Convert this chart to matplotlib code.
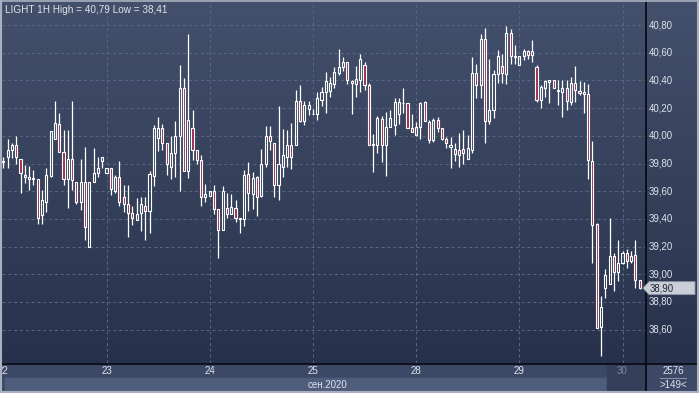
import numpy as np
import matplotlib.pyplot as plt
from matplotlib.patches import Rectangle, Polygon

W, H = 699, 393

# hourly candles
opens = [39.82, 39.845, 39.895, 39.935, 39.83, 39.72, 39.69, 39.69, 39.69, 39.43,
         39.52, 39.71, 39.98, 40.085, 39.88, 39.69, 39.83, 39.665, 39.52, 39.67,
         39.20, 39.665, 39.73, 39.815, 39.73, 39.765, 39.605, 39.705, 39.555, 39.51,
         39.44, 39.395, 39.44, 39.49, 39.46, 39.71, 39.985, 40.058, 39.947, 39.773,
         39.875, 40.0, 40.347, 39.745, 40.058, 39.894, 39.827, 39.557, 39.564, 39.605,
         39.472, 39.32, 39.48, 39.436, 39.48, 39.40, 39.40, 39.725, 39.581, 39.70,
         39.564, 39.798, 40.0, 39.95, 39.646, 39.773, 39.85, 39.937, 39.937, 40.25,
         40.106, 40.19, 40.156, 40.156, 40.258, 40.318, 40.325, 40.371, 40.455, 40.494,
         40.53, 40.395, 40.371, 40.402, 40.51, 40.366, 39.937, 39.937, 40.118, 39.933,
         40.065, 40.077, 40.161, 40.234, 40.234, 40.053, 40.005, 40.065, 40.246, 40.101,
         39.973, 40.113, 40.053, 39.98, 39.92, 39.908, 39.86, 39.908, 39.83, 39.90,
         40.456, 40.37, 40.70, 40.107, 40.186, 40.445, 40.502, 40.445, 40.741, 40.576,
         40.509, 40.576, 40.61, 40.586, 40.497, 40.258, 40.346, 40.387, 40.401, 40.325,
         40.318, 40.342, 40.246, 40.383, 40.325, 40.315, 40.30, 39.82, 39.363, 38.62,
         38.904, 38.928, 39.133, 39.013, 39.085, 39.157, 39.097, 39.138, 38.957]
highs = [39.85, 39.975, 39.947, 39.995, 39.83, 39.79, 39.78, 39.75, 39.69, 39.61,
         39.77, 40.035, 40.25, 40.165, 40.045, 40.045, 40.25, 39.665, 39.83, 39.92,
         39.67, 39.91, 39.845, 39.845, 39.765, 39.765, 39.715, 39.815, 39.645, 39.645,
         39.49, 39.55, 39.555, 39.555, 39.745, 40.08, 40.135, 40.087, 39.947, 40.0,
         40.11, 40.51, 40.42, 40.737, 40.188, 39.894, 39.858, 39.653, 39.605, 39.648,
         39.472, 39.64, 39.586, 39.58, 39.533, 39.40, 39.75, 39.814, 39.737, 39.713,
         39.906, 40.068, 40.068, 39.95, 40.212, 40.05, 40.04, 40.09, 40.33, 40.364,
         40.25, 40.25, 40.193, 40.318, 40.354, 40.463, 40.426, 40.50, 40.63, 40.57,
         40.53, 40.402, 40.504, 40.59, 40.535, 40.383, 40.01, 40.142, 40.142, 40.173,
         40.186, 40.27, 40.27, 40.342, 40.234, 40.161, 40.10, 40.246, 40.25, 40.113,
         40.125, 40.137, 40.053, 39.99, 39.99, 39.945, 40.017, 40.04, 40.005, 40.57,
         40.52, 40.736, 40.78, 40.557, 40.473, 40.617, 40.593, 40.79, 40.772, 40.653,
         40.576, 40.629, 40.617, 40.689, 40.509, 40.366, 40.401, 40.406, 40.406, 40.401,
         40.401, 40.401, 40.421, 40.502, 40.394, 40.39, 40.376, 39.966, 39.368, 38.84,
         39.037, 39.41, 39.157, 39.247, 39.17, 39.181, 39.17, 39.247, 38.957]
lows = [39.77, 39.77, 39.84, 39.80, 39.59, 39.66, 39.61, 39.645, 39.365, 39.36,
        39.45, 39.70, 39.975, 39.88, 39.645, 39.48, 39.61, 39.51, 39.465, 39.25,
        39.20, 39.665, 39.70, 39.765, 39.73, 39.575, 39.59, 39.49, 39.45, 39.27,
        39.355, 39.395, 39.31, 39.25, 39.295, 39.635, 39.89, 39.894, 39.72, 39.69,
        39.70, 39.605, 39.745, 39.696, 39.822, 39.798, 39.496, 39.52, 39.564, 39.436,
        39.118, 39.32, 39.407, 39.436, 39.376, 39.30, 39.352, 39.46, 39.472, 39.424,
        39.56, 39.773, 39.90, 39.557, 39.533, 39.706, 39.773, 39.76, 39.937, 40.10,
        40.08, 40.15, 40.156, 40.113, 40.215, 40.166, 40.28, 40.342, 40.44, 40.47,
        40.373, 40.161, 40.282, 40.318, 40.33, 39.933, 39.74, 39.877, 39.81, 39.71,
        40.065, 40.005, 40.084, 40.166, 40.053, 40.029, 39.998, 39.98, 40.106, 39.945,
        39.957, 40.029, 39.97, 39.91, 39.77, 39.82, 39.776, 39.80, 39.83, 39.875,
        40.27, 40.27, 39.95, 40.083, 40.126, 40.378, 40.378, 40.373, 40.521, 40.52,
        40.509, 40.545, 40.557, 40.533, 40.246, 40.198, 40.282, 40.234, 40.342, 40.222,
        40.133, 40.186, 40.222, 40.246, 40.294, 40.167, 39.688, 39.078, 38.615, 38.41,
        38.832, 38.928, 38.88, 38.952, 39.073, 39.049, 39.085, 38.904, 38.897]
closes = [39.81, 39.90, 39.935, 39.85, 39.73, 39.70, 39.70, 39.69, 39.41, 39.54,
          39.72, 40.035, 40.09, 39.88, 39.69, 39.83, 39.68, 39.52, 39.67, 39.345,
          39.67, 39.735, 39.77, 39.845, 39.765, 39.615, 39.705, 39.525, 39.51, 39.44,
          39.41, 39.435, 39.505, 39.46, 39.725, 40.055, 40.058, 39.947, 39.793, 39.875,
          40.0, 40.347, 39.745, 40.116, 39.894, 39.827, 39.557, 39.58, 39.605, 39.472,
          39.32, 39.60, 39.436, 39.484, 39.407, 39.40, 39.72, 39.585, 39.696, 39.557,
          39.798, 40.0, 39.96, 39.646, 39.793, 39.858, 39.937, 39.85, 40.25, 40.106,
          40.22, 40.22, 40.156, 40.27, 40.318, 40.398, 40.378, 40.463, 40.494, 40.53,
          40.402, 40.378, 40.407, 40.552, 40.366, 39.933, 39.937, 40.125, 39.933, 40.065,
          40.125, 40.246, 40.246, 40.234, 40.053, 40.029, 40.065, 40.234, 40.106, 39.969,
          40.113, 40.053, 39.98, 39.95, 39.937, 39.867, 39.896, 39.877, 39.91, 40.456,
          40.37, 40.70, 40.107, 40.186, 40.445, 40.574, 40.45, 40.741, 40.574, 40.57,
          40.576, 40.61, 40.586, 40.61, 40.258, 40.354, 40.394, 40.406, 40.342, 40.325,
          40.342, 40.25, 40.383, 40.33, 40.31, 40.30, 39.826, 39.355, 38.615, 38.765,
          38.996, 39.133, 39.013, 39.085, 39.157, 39.097, 39.133, 38.957, 38.90]

day_labels = ["22", "23", "24", "25", "28", "29", "30"]
day_starts = [0, 24, 48, 72, 96, 120, 144]
price_ticks = [38.6, 38.8, 39.0, 39.2, 39.4, 39.6, 39.8, 40.0, 40.2, 40.4, 40.6, 40.8]
last_price = 38.90
month_label = "сен.2020"
title = "LIGHT 1H High = 40,79 Low = 38,41"
info_top = "2576"
info_bottom = ">149<"

plt.rcParams['font.family'] = ['Liberation Sans', 'DejaVu Sans']
txt = '#dfe4ec'
grid_c = '#5a6884'
red = '#9e2a4c'


def fx(px):
    return px / W


def fy(py):
    return 1 - py / H


def box(l, t, r, b):
    return [fx(l), fy(b), fx(r) - fx(l), fy(t) - fy(b)]


fig = plt.figure(figsize=(W / 100, H / 100), dpi=100)
fig.patch.set_facecolor('#3c4966')

# gradient backdrop for chart + price panel
bg = fig.add_axes(box(0, 0, W, 363))
grad = np.linspace(0, 1, 256).reshape(-1, 1)
top = np.array([0x44, 0x51, 0x6c]) / 255
bot = np.array([0x27, 0x31, 0x4b]) / 255
bg.imshow(top + grad[:, :, None] * (bot - top), aspect='auto', extent=[0, 1, 0, 1])
bg.set_axis_off()

xmin, xmax = (2 - 3.3) / 4.3, (645 - 3.3) / 4.3
ymax = 40.80 + (25 - 2) / 138.5
ymin = 40.80 - (363 - 25) / 138.5

ax = fig.add_axes(box(2, 2, 645, 363))
ax.patch.set_alpha(0)
ax.set_xlim(xmin, xmax)
ax.set_ylim(ymin, ymax)
for s in ax.spines.values():
    s.set_visible(False)
ax.set_xticks([])
ax.set_yticks([])

for p in price_ticks:
    ax.axhline(p, color=grid_c, lw=0.7, ls=(0, (3, 3)), zorder=1)
for d in day_starts[1:]:
    ax.axvline(d, color=grid_c, lw=0.7, ls=(0, (3, 3)), zorder=1)

o = np.array(opens)
c = np.array(closes)
hi = np.array(highs)
lo = np.array(lows)
idx = np.arange(len(o))
top_b = np.maximum(o, c)
bot_b = np.minimum(o, c)
ax.vlines(idx, top_b, hi, color='white', lw=0.9, zorder=3)
ax.vlines(idx, lo, bot_b, color='white', lw=0.9, zorder=3)
down = c < o
ax.bar(idx, np.maximum(top_b - bot_b, 0.004), bottom=bot_b, width=0.5,
       color=np.where(down, red, 'none'), edgecolor='white', lw=0.8, zorder=4)

ax.text(0.3, ymax - 0.025, title, color=txt, fontsize=7.2, va='top', ha='left')

# price axis labels
for p in price_ticks:
    fig.text(fx(649), fy(25 + (40.80 - p) * 138.5), f"{p:.2f}".replace('.', ','),
             color=txt, fontsize=6.9, va='center', ha='left')

# last price tag
ly = 25 + (40.80 - last_price) * 138.5
tag = Polygon([(fx(643), fy(ly)), (fx(649), fy(ly - 6.5)), (fx(695), fy(ly - 6.5)),
               (fx(695), fy(ly + 6.5)), (fx(649), fy(ly + 6.5))],
              closed=True, transform=fig.transFigure, facecolor='#c9ced7',
              edgecolor='#8e96a6', lw=0.6, zorder=5)
fig.add_artist(tag)
fig.text(fx(650), fy(ly), f"{last_price:.2f}".replace('.', ','), color='#1c2230',
         fontsize=6.9, va='center', ha='left', zorder=6)

# bottom time bar
bar_ax = fig.add_axes(box(0, 364, W, H))
bar_ax.set_xlim(0, W)
bar_ax.set_ylim(H, 364)
bar_ax.set_axis_off()
bar_ax.add_patch(Rectangle((0, 364), W, 29, color='#3c4966'))
bar_ax.add_patch(Rectangle((5, 378), 602, 13, color='#4f5d7c'))
bar_ax.add_patch(Rectangle((607, 365), 38, 25, color='#34405a'))
bar_ax.text(327, 384.5, month_label, color=txt, fontsize=7, ha='center', va='center')
bar_ax.text(673, 371, info_top, color=txt, fontsize=7, ha='center', va='center')
bar_ax.text(673, 385, info_bottom, color=txt, fontsize=7, ha='center', va='center')
bar_ax.plot([660, 686], [377.5, 377.5], color='#9aa4b6', lw=0.6)

tax = fig.add_axes(box(2, 364, 645, 378))
tax.patch.set_alpha(0)
tax.set_xlim(xmin, xmax)
tax.set_ylim(0, 1)
tax.set_axis_off()
for d, lab in zip(day_starts, day_labels):
    col = '#7d8aa3' if d == day_starts[-1] else txt
    tax.text(d, 0.5, lab, color=col, fontsize=7, ha='center', va='center', clip_on=True)

# frame lines
fig.add_artist(plt.Line2D([fx(646), fx(646)], [fy(0), fy(393)], color='#05070c', lw=1.2))
fig.add_artist(plt.Line2D([0, 1], [fy(363.5), fy(363.5)], color='#05070c', lw=1.2))
fig.add_artist(plt.Line2D([fx(1), fx(1)], [0, 1], color='#a9b1c0', lw=1.5))
fig.add_artist(plt.Line2D([0, 1], [fy(0.5), fy(0.5)], color='#a9b1c0', lw=1.2))
fig.add_artist(plt.Line2D([0, 1], [fy(392), fy(392)], color='#a9b1c0', lw=1.5))
fig.add_artist(plt.Line2D([fx(698), fx(698)], [0, 1], color='#a9b1c0', lw=1.5))

fig.savefig('out.png', dpi=100)
